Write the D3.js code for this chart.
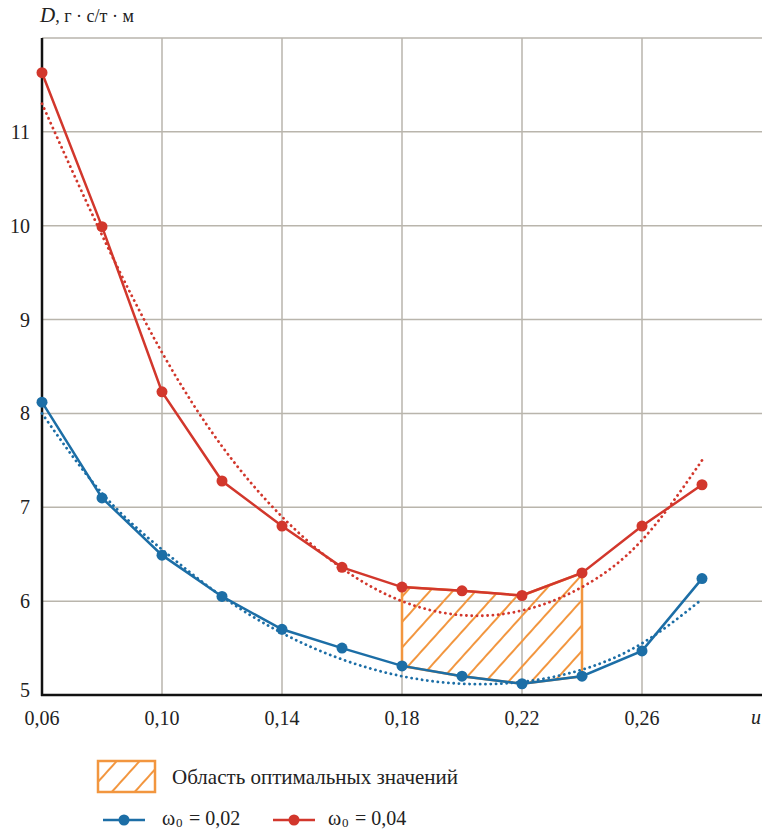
<!DOCTYPE html>
<html><head><meta charset="utf-8">
<script src="https://cdn.jsdelivr.net/npm/d3@7"></script>
<style>body{margin:0;background:#fff}svg{display:block}
text{font-family:"Liberation Serif","Tinos","DejaVu Serif",serif}</style>
</head><body><svg id="c" width="764" height="830"></svg>
<script>
const xValues = [0.06,0.08,0.10,0.12,0.14,0.16,0.18,0.20,0.22,0.24,0.26,0.28];
const blueValues = [8.12,7.10,6.49,6.05,5.70,5.50,5.31,5.20,5.12,5.20,5.47,6.24];
const redValues = [11.63,9.99,8.23,7.28,6.80,6.36,6.15,6.11,6.06,6.30,6.80,7.24];
const blueTrend = [8.00,7.15,6.55,6.05,5.66,5.38,5.20,5.12,5.14,5.27,5.55,6.02];
const redTrend = [11.30,9.90,8.65,7.65,6.90,6.35,6.00,5.85,5.90,6.15,6.65,7.50];
const xTicks = [0.06,0.10,0.14,0.18,0.22,0.26];
const xTickLabels = ["0,06","0,10","0,14","0,18","0,22","0,26"];
const yTicks = [5,6,7,8,9,10,11];
const optimalRange = [0.18,0.24];
const legendLabels = ["Область оптимальных значений","0,02","0,04"];

const BLUE="#1c6ea6", RED="#d2372c", ORANGE="#f2963f", GRID="#b9b5ac";
const svg=d3.select("#c");
const x=d3.scaleLinear().domain([0.06,0.30]).range([42,762]);
const y=d3.scaleLinear().domain([5,12]).range([695,38]);

const defs=svg.append("defs");
const pat=defs.append("pattern").attr("id","hatch").attr("patternUnits","userSpaceOnUse")
  .attr("width",17).attr("height",17).attr("patternTransform","rotate(42)");
pat.append("line").attr("x1",1).attr("y1",0).attr("x2",1).attr("y2",17)
  .attr("stroke",ORANGE).attr("stroke-width",2);

// grid
svg.append("g").selectAll("line").data(xTicks.slice(1)).join("line")
  .attr("x1",d=>x(d)).attr("x2",d=>x(d)).attr("y1",y(12)).attr("y2",y(5))
  .attr("stroke",GRID).attr("stroke-width",1.5);
svg.append("g").selectAll("line").data(yTicks.slice(1).concat([12])).join("line")
  .attr("x1",x(0.06)).attr("x2",x(0.30)).attr("y1",d=>y(d)).attr("y2",d=>y(d))
  .attr("stroke",GRID).attr("stroke-width",1.5);

// axes
svg.append("line").attr("x1",x(0.06)).attr("x2",x(0.06)).attr("y1",y(12)).attr("y2",y(5)+1)
  .attr("stroke","#111").attr("stroke-width",2.5);
svg.append("line").attr("x1",x(0.06)-1).attr("x2",x(0.30)).attr("y1",y(5)).attr("y2",y(5))
  .attr("stroke","#111").attr("stroke-width",2.5);

svg.append("g").selectAll("text").data(xTicks).join("text")
  .attr("x",d=>x(d)).attr("y",725).attr("text-anchor","middle")
  .attr("font-size",20).attr("fill","#222")
  .text((d,i)=>xTickLabels[i]);
svg.append("g").selectAll("text").data(yTicks).join("text")
  .attr("x",30).attr("y",d=>y(d)+(d===5?2:7)).attr("text-anchor","end")
  .attr("font-size",20).attr("fill","#222")
  .text(d=>d);
svg.append("text").attr("x",751).attr("y",724).attr("font-style","italic")
  .attr("font-size",20).attr("fill","#222").text("u");

const title=svg.append("text").attr("x",40).attr("y",22).attr("font-size",18).attr("fill","#222");
title.append("tspan").attr("font-style","italic").attr("font-size",21).text("D");
title.append("tspan").text(", г · с/т · м");

// optimal area
const idx=xValues.map((v,i)=>i).filter(i=>xValues[i]>=optimalRange[0]-1e-9&&xValues[i]<=optimalRange[1]+1e-9);
const poly=idx.map(i=>[x(xValues[i]),y(redValues[i])]).concat(idx.slice().reverse().map(i=>[x(xValues[i]),y(blueValues[i])]));
svg.append("path").attr("d","M"+poly.join("L")+"Z").attr("fill","url(#hatch)")
  .attr("stroke",ORANGE).attr("stroke-width",2.5).attr("stroke-linejoin","round");

// trends
const trendLine=d3.line().x((d,i)=>x(xValues[i])).y(d=>y(d)).curve(d3.curveNatural);
[[blueTrend,BLUE],[redTrend,RED]].forEach(([data,c])=>{
  svg.append("path").attr("d",trendLine(data)).attr("fill","none").attr("stroke",c)
    .attr("stroke-width",2.8).attr("stroke-dasharray","0.1,5.2").attr("stroke-linecap","round");
});

// series
const line=d3.line().x((d,i)=>x(xValues[i])).y(d=>y(d)).curve(d3.curveLinear);
[[blueValues,BLUE],[redValues,RED]].forEach(([data,c])=>{
  svg.append("path").attr("d",line(data)).attr("fill","none").attr("stroke",c).attr("stroke-width",2.5);
  svg.append("g").selectAll("circle").data(data).join("circle")
    .attr("cx",(d,i)=>x(xValues[i])).attr("cy",d=>y(d)).attr("r",5.5).attr("fill",c);
});

// legend
svg.append("rect").attr("x",98).attr("y",761).attr("width",57).attr("height",31)
  .attr("fill","url(#hatch)").attr("stroke",ORANGE).attr("stroke-width",2.5);
svg.append("text").attr("x",172).attr("y",784).attr("font-size",21)
  .attr("fill","#222").text(legendLabels[0]);
[[BLUE,103,legendLabels[1],162],[RED,273,legendLabels[2],328]].forEach(([c,lx,t,tx])=>{
  svg.append("line").attr("x1",lx).attr("x2",lx+42).attr("y1",820).attr("y2",820).attr("stroke",c).attr("stroke-width",2.5);
  svg.append("circle").attr("cx",lx+21).attr("cy",820).attr("r",5.5).attr("fill",c);
  svg.append("text").attr("x",tx).attr("y",825).attr("font-size",20).attr("fill","#222").text("ω");
  svg.append("text").attr("x",tx+14).attr("y",827).attr("font-size",13).attr("fill","#222").text("0");
  svg.append("text").attr("x",tx+27).attr("y",825).attr("font-size",20).attr("fill","#222").text("= "+t);
});
</script></body></html>
